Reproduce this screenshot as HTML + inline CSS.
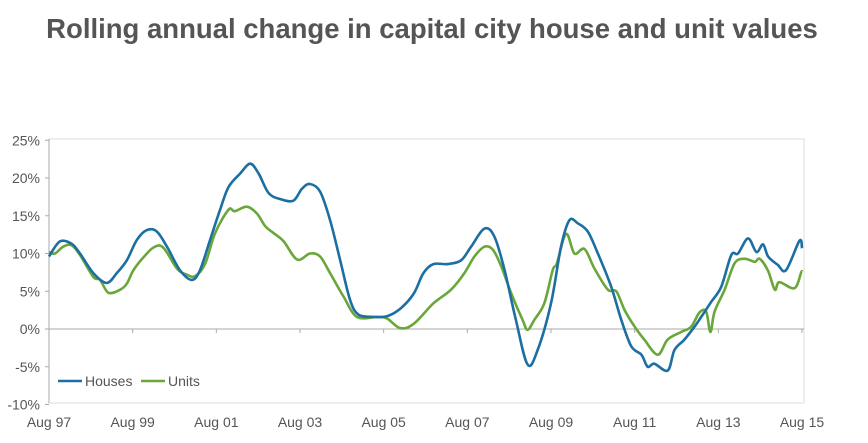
<!DOCTYPE html>
<html><head><meta charset="utf-8"><style>
body{margin:0;background:#fff;width:868px;height:438px;overflow:hidden;font-family:"Liberation Sans",Arial,sans-serif}
</style></head><body>
<svg id="chart" width="868" height="438" xmlns="http://www.w3.org/2000/svg" font-family="Liberation Sans, Arial, sans-serif">
<text x="432" y="38" text-anchor="middle" font-size="27.5" font-weight="bold" fill="#555">Rolling annual change in capital city house and unit values</text>
<rect x="49" y="139" width="755" height="264" fill="none" stroke="#ddd" stroke-width="1"/>
<g id="axes"></g>
<g id="series"></g>
<g>
<line x1="58" y1="381" x2="82" y2="381" stroke="#1c6fa3" stroke-width="2.5"/>
<text x="85" y="386" font-size="14" fill="#555">Houses</text>
<line x1="141" y1="381" x2="165" y2="381" stroke="#6aa73a" stroke-width="2.5"/>
<text x="168" y="386" font-size="14" fill="#555">Units</text>
</g>
</svg>
<script>
const yTicks=[25,20,15,10,5,0,-5,-10];
const xTickLabels=["Aug 97","Aug 99","Aug 01","Aug 03","Aug 05","Aug 07","Aug 09","Aug 11","Aug 13","Aug 15"];
const xTickYears=[0,2,4,6,8,10,12,14,16,18];
const housesT=[0,0.26,0.54,0.74,1.06,1.38,1.62,1.86,2.1,2.34,2.58,2.82,3.13,3.41,3.61,3.85,4.09,4.29,4.57,4.81,5.01,5.25,5.53,5.84,6.05,6.24,6.48,6.72,6.96,7.2,7.4,7.76,8.08,8.4,8.72,8.95,9.19,9.53,9.85,10.09,10.41,10.65,10.89,11.16,11.44,11.68,12.0,12.24,12.44,12.64,12.88,13.12,13.44,13.68,13.92,14.16,14.31,14.47,14.79,14.95,15.19,15.43,15.59,15.83,16.07,16.31,16.47,16.71,16.91,17.07,17.19,17.42,17.62,17.94,18];
const housesV=[9.6,11.6,11.3,10.0,7.4,6.1,7.4,9.1,11.8,13.1,12.9,10.9,7.8,6.5,7.8,11.8,15.8,18.8,20.6,21.9,20.6,18.0,17.2,17.0,18.6,19.2,18.2,14.4,9.1,3.8,1.9,1.6,1.7,2.7,4.7,7.4,8.6,8.6,9.1,10.9,13.3,12.2,7.8,1.2,-4.7,-2.8,3.4,10.9,14.4,14.0,12.9,10.0,5.6,1.2,-2.3,-3.4,-5.0,-4.6,-5.5,-2.8,-1.4,0.3,1.6,3.6,5.6,9.8,10.0,12.0,10.2,11.2,9.6,8.5,7.8,11.7,10.7];
const unitsT=[0,0.14,0.34,0.54,0.74,1.06,1.22,1.42,1.7,1.86,2.02,2.26,2.5,2.73,3.06,3.29,3.49,3.73,3.97,4.29,4.44,4.73,4.97,5.17,5.37,5.61,5.93,6.24,6.48,6.72,7.04,7.36,7.84,8.08,8.4,8.72,9.19,9.61,9.93,10.17,10.41,10.61,10.81,11.05,11.32,11.44,11.6,11.84,12.04,12.14,12.36,12.56,12.8,13.04,13.36,13.56,13.76,14.0,14.23,14.55,14.79,15.11,15.35,15.55,15.71,15.81,15.91,16.15,16.39,16.63,16.87,16.99,17.19,17.35,17.46,17.82,17.98,18];
const unitsV=[10.2,10.0,10.9,11.1,9.8,6.9,6.5,4.8,5.2,6.0,7.8,9.5,10.8,10.8,8.0,7.2,7.0,8.6,12.7,15.8,15.6,16.2,15.3,13.6,12.7,11.6,9.2,10.0,9.6,7.4,4.3,1.6,1.6,1.4,0.1,0.7,3.4,5.2,7.4,9.6,10.9,10.5,8.3,4.7,1.2,-0.1,1.2,3.4,7.8,8.7,12.6,10.0,10.6,8.0,5.2,5.0,2.5,0.3,-1.4,-3.4,-1.4,-0.4,0.3,2.2,2.3,-0.4,2.3,5.2,8.7,9.3,8.9,9.3,7.7,5.2,6.2,5.4,7.5,7.5];
const NS="http://www.w3.org/2000/svg";
const X=t=>49+t*(753/18);
const Y=v=>329-v*7.55;
const axes=document.getElementById('axes'),series=document.getElementById('series');
function mk(tag,attrs,parent){const e=document.createElementNS(NS,tag);for(const k in attrs)e.setAttribute(k,attrs[k]);parent.appendChild(e);return e;}
let za=mk('line',{x1:49,y1:Y(0),x2:804,y2:Y(0),stroke:'#aaa','stroke-width':1},axes);


let ya=mk('line',{x1:49,y1:139,x2:49,y2:403,stroke:'#aaa','stroke-width':1},axes);


yTicks.forEach(v=>{
 const t=mk('text',{x:40,y:Y(v)+5,'text-anchor':'end','font-size':14,fill:'#555'},axes);
 t.textContent=v+'%';
 
 
 mk('line',{x1:45,y1:Y(v),x2:49,y2:Y(v),stroke:'#aaa'},axes);
});
xTickYears.forEach((yr,i)=>{
 mk('line',{x1:X(yr),y1:Y(0),x2:X(yr),y2:Y(0)+4,stroke:'#aaa'},axes);
 const t=mk('text',{x:X(yr),y:427,'text-anchor':'middle','font-size':14,fill:'#555'},axes);
 t.textContent=xTickLabels[i];
 
 
});
function line(ts,vs,color,name){
 const P=ts.map((t,i)=>[X(t),Y(vs[i])]);
 let d='M'+P[0][0].toFixed(1)+' '+P[0][1].toFixed(1);
 for(let i=0;i<P.length-1;i++){
  const p0=P[Math.max(0,i-1)],p1=P[i],p2=P[i+1],p3=P[Math.min(P.length-1,i+2)];
  const c1=[p1[0]+(p2[0]-p0[0])/6,p1[1]+(p2[1]-p0[1])/6];
  const c2=[p2[0]-(p3[0]-p1[0])/6,p2[1]-(p3[1]-p1[1])/6];
  d+=' C'+c1[0].toFixed(1)+' '+c1[1].toFixed(1)+' '+c2[0].toFixed(1)+' '+c2[1].toFixed(1)+' '+p2[0].toFixed(1)+' '+p2[1].toFixed(1);
 }
 const p=mk('path',{d:d,fill:'none',stroke:color,'stroke-width':2.6,'stroke-linejoin':'round'},series);
 
 
}
line(unitsT,unitsV,'#6aa73a','units-line');
line(housesT,housesV,'#1c6fa3','houses-line');
</script>
</body></html>
